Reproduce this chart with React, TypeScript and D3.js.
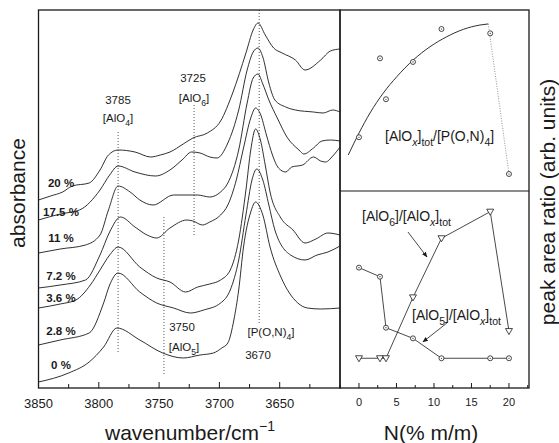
import React from 'react';
import * as d3 from 'd3';

type Pt = [number, number];

// IR spectra, [wavenumber (cm-1), absorbance (a.u., offset)]
const spec20: Pt[] = [[3850,1.88],[3840,1.92],[3830,1.96],[3822,2.02],[3808,2.05],[3799,2.18],[3792,2.33],[3784,2.38],[3770,2.36],[3757,2.31],[3749,2.33],[3741,2.36],[3730,2.44],[3722,2.5],[3710,2.55],[3699,2.67],[3689,2.95],[3678,3.35],[3672,3.58],[3668,3.65],[3662,3.53],[3655,3.4],[3648,3.35],[3637,3.28],[3629,3.18],[3616,3.28],[3608,3.37],[3600,3.39]];
const spec17_5: Pt[] = [[3850,1.68],[3832,1.74],[3816,1.78],[3799,1.98],[3791,2.13],[3784,2.22],[3770,2.16],[3753,2.12],[3741,2.18],[3731,2.28],[3723,2.36],[3716,2.35],[3708,2.31],[3702,2.3],[3693,2.45],[3684,2.78],[3677,3.18],[3672,3.36],[3668,3.4],[3664,3.31],[3659,3.05],[3654,2.88],[3645,2.81],[3637,2.78],[3622,2.76],[3614,2.75],[3606,2.78],[3600,2.76]];
const spec11: Pt[] = [[3850,1.35],[3832,1.39],[3811,1.43],[3799,1.53],[3792,1.78],[3784,2.02],[3774,1.96],[3766,1.88],[3755,1.83],[3738,1.93],[3718,1.93],[3708,1.91],[3699,1.96],[3693,2.05],[3684,2.38],[3677,2.85],[3672,3.1],[3668,3.14],[3664,3.04],[3659,2.88],[3652,2.7],[3644,2.51],[3634,2.38],[3630,2.34],[3622,2.4],[3615,2.47],[3608,2.48],[3600,2.47]];
const spec7_2: Pt[] = [[3850,1.0],[3832,1.03],[3811,1.08],[3799,1.33],[3791,1.56],[3782,1.71],[3770,1.61],[3760,1.53],[3752,1.5],[3741,1.6],[3727,1.68],[3722,1.67],[3714,1.63],[3708,1.66],[3699,1.73],[3693,1.83],[3686,2.08],[3680,2.4],[3674,2.7],[3670,2.8],[3666,2.74],[3661,2.53],[3656,2.33],[3651,2.2],[3645,2.16],[3640,2.21],[3631,2.23],[3622,2.31],[3616,2.27],[3612,2.26],[3606,2.32],[3600,2.41]];
const spec3_6: Pt[] = [[3850,0.8],[3832,0.84],[3819,0.88],[3807,1.03],[3799,1.18],[3791,1.33],[3784,1.41],[3766,1.21],[3752,1.1],[3741,1.06],[3728,0.96],[3718,1.01],[3708,1.04],[3699,1.08],[3691,1.18],[3684,1.48],[3678,1.98],[3674,2.38],[3670,2.59],[3666,2.48],[3662,2.23],[3658,1.96],[3649,1.7],[3639,1.58],[3629,1.45],[3620,1.49],[3610,1.55],[3600,1.53]];
const spec2_8: Pt[] = [[3850,0.43],[3832,0.48],[3808,0.55],[3796,0.85],[3791,1.03],[3784,1.15],[3766,0.96],[3752,0.85],[3738,0.8],[3724,0.75],[3713,0.78],[3699,0.85],[3691,0.98],[3684,1.28],[3678,1.73],[3673,2.08],[3669,2.19],[3664,2.08],[3659,1.83],[3654,1.58],[3641,1.33],[3629,1.28],[3619,1.33],[3610,1.36],[3600,1.42]];
const spec0: Pt[] = [[3850,0.06],[3825,0.15],[3808,0.26],[3796,0.41],[3785,0.6],[3766,0.48],[3747,0.35],[3730,0.3],[3716,0.33],[3705,0.35],[3698,0.4],[3693,0.45],[3688,0.68],[3684,0.98],[3680,1.41],[3674,1.76],[3670,1.86],[3664,1.73],[3658,1.41],[3649,1.11],[3635,0.85],[3627,0.8],[3616,0.79],[3600,0.8]];

const spectra = [spec20, spec17_5, spec11, spec7_2, spec3_6, spec2_8, spec0];
const spectrumLabels = ['20 %', '17.5 %', '11 %', '7.2 %', '3.6 %', '2.8 %', '0 %'];

const wavenumberTicks = [3850, 3800, 3750, 3700, 3650];
const wavenumberMinor = [3825, 3775, 3725, 3675, 3625];
const bandPositions = [3784, 3721, 3746, 3667];

// right panels, N content (% m/m) vs peak area ratios (arb. units)
const nitrogen = [0, 2.8, 3.6, 7.2, 11, 17.5, 20];
const totalRatio = [29.7, 73.3, 50.7, 71.3, 89.5, 87.1, 9.4];
const fitN = [-1.43, 0, 1.47, 3.24, 5.03, 7.24, 9.47, 11.69, 13.91, 16.13, 17.24];
const fitRatio = [19.9, 32.0, 43.1, 54.1, 63.1, 72.4, 79.7, 85.2, 89.3, 91.7, 92.3];
const alo5Ratio = [61.1, 56.5, 30.6, 25.2, 15.1, 15.1, 15.1];
const alo6Ratio = [15.1, 15.1, 15.1, 46.0, 76.0, 89.5, 28.9];
const nTicks = [0, 5, 10, 15, 20];
const nMinor = [-2.5, 2.5, 7.5, 12.5, 17.5, 22.5];

const FONT = "'Liberation Sans', Arial, Helvetica, sans-serif";
const INK = '#1a1a1a';

type Seg = { t: string; sub?: boolean; sup?: boolean; it?: boolean };

const Rich = ({ x, y, segs, size, anchor = 'start', weight }: any) => {
  let shift = 0;
  const spans = segs.map((s: Seg, i: number) => {
    const target = s.sub ? size * 0.35 : s.sup ? -size * 0.45 : 0;
    const dy = target - shift;
    shift = target;
    return (
      <tspan key={i} dy={dy} fontSize={s.sub || s.sup ? size * 0.75 : size} fontStyle={s.it ? 'italic' : undefined}>
        {s.t}
      </tspan>
    );
  });
  return (
    <text x={x} y={y} fontSize={size} textAnchor={anchor} fontWeight={weight} fill={INK}>
      {spans}
    </text>
  );
};

const App = () => {
  const W = 559, H = 443;
  const L = { left: 38.5, right: 340, top: 10, bottom: 388 };
  const R = { left: 340, right: 529, top: 10, mid: 191, bottom: 388 };

  const xW = d3.scaleLinear().domain([3850, 3600]).range([L.left, L.right]);
  const yA = d3.scaleLinear().domain([0, 3.78]).range([L.bottom, L.top]);
  const xN = d3.scaleLinear().domain([-2.53, 22.67]).range([R.left, R.right]);
  const yTop = d3.scaleLinear().domain([0, 100]).range([R.mid, R.top]);
  const yBot = d3.scaleLinear().domain([0, 100]).range([R.bottom, R.mid]);

  const specLine = d3.line<Pt>().x(d => xW(d[0])).y(d => yA(d[1])).curve(d3.curveMonotoneX);
  const fitLine = d3.line<number>().x((_, i) => xN(fitN[i])).y(d => yTop(d)).curve(d3.curveMonotoneX);
  const botLine = (vals: number[]) => d3.line<number>().x((_, i) => xN(nitrogen[i])).y(d => yBot(d))(vals) || '';
  const tri = d3.symbol().type(d3.symbolTriangle).size(21)() || '';

  // layout of annotations (pixels)
  const labelY = [187, 216, 242, 280, 302, 335, 369];
  const bandExtent: [number, number][] = [[132, 353], [105, 235], [217, 375], [10, 323]];

  const circle = (cx: number, cy: number, k: string) => (
    <g key={k}>
      <circle cx={cx} cy={cy} r={2.5} fill="#fff" stroke={INK} strokeWidth={0.8} />
      <circle cx={cx} cy={cy} r={0.6} fill={INK} />
    </g>
  );

  return (
    <svg width={W} height={H} style={{ position: 'absolute', left: 0, top: 0, background: '#fff' }} fontFamily={FONT}>
      <defs>
        <marker id="arr" viewBox="0 0 10 10" refX={9} refY={5} markerWidth={7} markerHeight={7} orient="auto">
          <path d="M0,1 L10,5 L0,9 z" fill={INK} />
        </marker>
      </defs>
      <rect x={0} y={0} width={W} height={H} fill="#fff" />

      {/* band marker lines */}
      {bandPositions.map((w, i) => (
        <line key={'b' + i} x1={xW(w)} x2={xW(w)} y1={bandExtent[i][0]} y2={bandExtent[i][1]}
          stroke="#444" strokeWidth={0.9} strokeDasharray="1,2" />
      ))}

      {/* spectra */}
      {spectra.map((s, i) => (
        <path key={'s' + i} d={specLine(s) || ''} fill="none" stroke={INK} strokeWidth={0.9} />
      ))}

      {spectrumLabels.map((t, i) => (
        <text key={'l' + i} x={61} y={labelY[i]} fontSize={11.5} fontWeight="bold" textAnchor="middle" fill={INK}>{t}</text>
      ))}

      {/* band annotations */}
      <text x={118} y={104} fontSize={11.5} textAnchor="middle" fill={INK}>3785</text>
      <Rich x={118} y={122} size={11.5} anchor="middle" segs={[{ t: '[AlO' }, { t: '4', sub: true }, { t: ']' }]} />
      <text x={193} y={82} fontSize={11.5} textAnchor="middle" fill={INK}>3725</text>
      <Rich x={194} y={102} size={11.5} anchor="middle" segs={[{ t: '[AlO' }, { t: '6', sub: true }, { t: ']' }]} />
      <text x={182} y={331} fontSize={11.5} textAnchor="middle" fill={INK}>3750</text>
      <Rich x={184} y={351} size={11.5} anchor="middle" segs={[{ t: '[AlO' }, { t: '5', sub: true }, { t: ']' }]} />
      <Rich x={271} y={336} size={11.5} anchor="middle" segs={[{ t: '[P(O,N)' }, { t: '4', sub: true }, { t: ']' }]} />
      <text x={258} y={359} fontSize={11.5} textAnchor="middle" fill={INK}>3670</text>

      {/* left x axis */}
      {wavenumberTicks.map(w => (
        <g key={'t' + w}>
          <line x1={xW(w)} x2={xW(w)} y1={L.bottom} y2={L.bottom - 6} stroke={INK} strokeWidth={1} />
          <text x={xW(w)} y={408} fontSize={13} textAnchor="middle" fill={INK}>{w}</text>
        </g>
      ))}
      {wavenumberMinor.map(w => (
        <line key={'m' + w} x1={xW(w)} x2={xW(w)} y1={L.bottom} y2={L.bottom - 4} stroke={INK} strokeWidth={1} />
      ))}

      {/* right top panel */}
      <path d={fitLine(fitRatio) || ''} fill="none" stroke={INK} strokeWidth={0.9} />
      <line x1={xN(fitN[fitN.length - 1])} y1={yTop(fitRatio[fitRatio.length - 1])}
        x2={xN(nitrogen[6])} y2={yTop(totalRatio[6])} stroke="#777" strokeWidth={0.8} strokeDasharray="1,1.5" />
      {totalRatio.map((v, i) => circle(xN(nitrogen[i]), yTop(v), 'c' + i))}
      <Rich x={385} y={141} size={14} segs={[{ t: '[AlO' }, { t: 'x', sub: true, it: true }, { t: ']' }, { t: 'tot', sub: true }, { t: '/[P(O,N)' }, { t: '4', sub: true }, { t: ']' }]} />

      {/* right bottom panel */}
      <path d={botLine(alo6Ratio)} fill="none" stroke={INK} strokeWidth={0.8} />
      <path d={botLine(alo5Ratio)} fill="none" stroke={INK} strokeWidth={0.8} />
      {alo5Ratio.map((v, i) => circle(xN(nitrogen[i]), yBot(v), 'd' + i))}
      {alo6Ratio.map((v, i) => (
        <path key={'tr' + i} d={tri} transform={`translate(${xN(nitrogen[i])},${yBot(v) - 0.5}) rotate(180)`}
          fill="#fff" stroke={INK} strokeWidth={0.8} />
      ))}
      <Rich x={362} y={221} size={14} segs={[{ t: '[AlO' }, { t: '6', sub: true }, { t: ']/[AlO' }, { t: 'x', sub: true, it: true }, { t: ']' }, { t: 'tot', sub: true }]} />
      <Rich x={412} y={320} size={14} segs={[{ t: '[AlO' }, { t: '5', sub: true }, { t: ']/[AlO' }, { t: 'x', sub: true, it: true }, { t: ']' }, { t: 'tot', sub: true }]} />
      <line x1={xN(6.53)} y1={yBot(79.2)} x2={xN(9.07)} y2={yBot(66.5)} stroke={INK} strokeWidth={0.8} markerEnd="url(#arr)" />
      <line x1={xN(11.73)} y1={yBot(33.0)} x2={xN(8.53)} y2={yBot(23.4)} stroke={INK} strokeWidth={0.8} markerEnd="url(#arr)" />

      {/* right x axis */}
      {nTicks.map(n => (
        <g key={'n' + n}>
          <line x1={xN(n)} x2={xN(n)} y1={R.bottom} y2={R.bottom - 5} stroke={INK} strokeWidth={1} />
          <text x={xN(n)} y={406} fontSize={11} textAnchor="middle" fill={INK}>{n}</text>
        </g>
      ))}
      {nMinor.map(n => (
        <line key={'nm' + n} x1={xN(n)} x2={xN(n)} y1={R.bottom} y2={R.bottom - 3} stroke={INK} strokeWidth={1} />
      ))}

      {/* frames */}
      <rect x={L.left} y={L.top} width={L.right - L.left} height={L.bottom - L.top} fill="none" stroke={INK} strokeWidth={1.3} />
      <rect x={R.left} y={R.top} width={R.right - R.left} height={R.bottom - R.top} fill="none" stroke={INK} strokeWidth={1.3} />
      <line x1={R.left} x2={R.right} y1={R.mid} y2={R.mid} stroke={INK} strokeWidth={1.1} />

      {/* axis titles */}
      <text transform="translate(25,193) rotate(-90)" fontSize={21} textAnchor="middle" fill={INK}>absorbance</text>
      <text x={190} y={440} fontSize={21} textAnchor="middle" fill={INK}>
        wavenumber/cm<tspan dy={-9} fontSize={14}>−1</tspan>
      </text>
      <text x={431} y={440} fontSize={21} textAnchor="middle" fill={INK}>N(% m/m)</text>
      <text transform="translate(555,202) rotate(-90)" fontSize={21} textAnchor="middle" fill={INK}>peak area ratio (arb. units)</text>
    </svg>
  );
};

export default App;
